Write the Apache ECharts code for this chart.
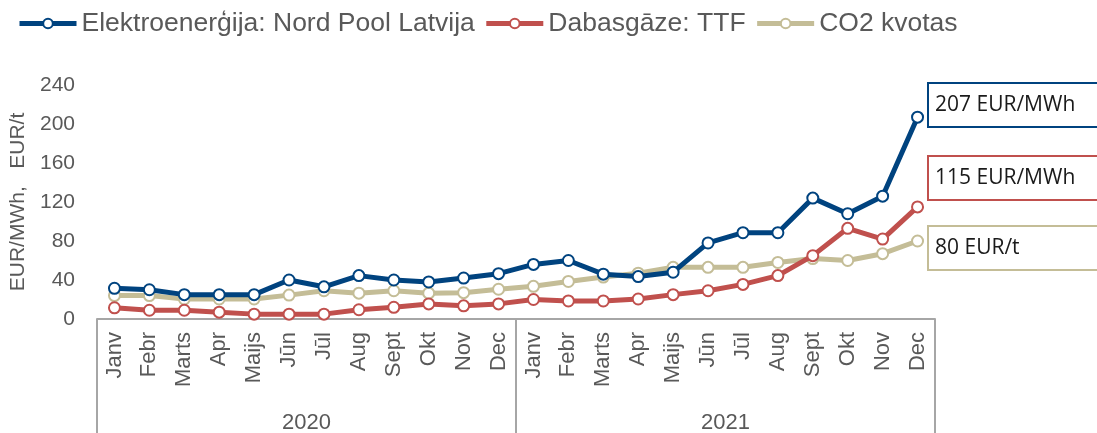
<!DOCTYPE html>
<html>
<head>
<meta charset="utf-8">
<script src="https://cdn.jsdelivr.net/npm/echarts@6/dist/echarts.min.js"></script>
<style>
  html, body { margin: 0; padding: 0; background: #fff; }
  #main { width: 1097px; height: 433px; }
</style>
</head>
<body>
<div id="main"></div>
<script>
// mēneši un gadi
var months = ['Janv', 'Febr', 'Marts', 'Apr', 'Maijs', 'Jūn', 'Jūl', 'Aug', 'Sept', 'Okt', 'Nov', 'Dec',
              'Janv', 'Febr', 'Marts', 'Apr', 'Maijs', 'Jūn', 'Jūl', 'Aug', 'Sept', 'Okt', 'Nov', 'Dec'];
var years = ['2020', '2021'];

var seriesNames = ['Elektroenerģija: Nord Pool Latvija', 'Dabasgāze: TTF', 'CO2 kvotas'];
var colors = ['#00437f', '#c0504d', '#c4bd97'];

var electricity = [31.5, 30, 25, 25, 25, 40, 33, 44.5, 40, 38, 42, 46.5,
                   56, 60, 46, 43.5, 48, 78, 88.5, 88.5, 124, 108, 126, 207];
var gas = [11.5, 9, 9, 7, 5, 5, 5, 9.5, 12, 15.5, 13.5, 15.5,
           20, 18.5, 18.5, 20.5, 25, 29, 35.5, 44.5, 65, 93, 82, 115];
var co2 = [24, 24, 20.5, 20.5, 20.5, 24.5, 29, 26.5, 29, 26.5, 27, 30.5,
           33.5, 38.5, 43, 47, 53, 53, 53, 58, 62, 60, 67, 80];

var endLabels = ['207 EUR/MWh', '115 EUR/MWh', '80 EUR/t'];

var textGray = '#595959';
var axisGray = '#a6a6a6';
var font = 'Liberation Sans';

var myChart = echarts.init(document.getElementById('main'));

function lineSeries(i, data) {
    return {
        name: seriesNames[i],
        type: 'line',
        data: data,
        symbol: 'emptyCircle',
        symbolSize: 11,
        showAllSymbol: true,
        lineStyle: { width: 5, color: colors[i] },
        itemStyle: { color: colors[i], borderColor: colors[i], borderWidth: 2 },
        z: 3 - i
    };
}

// labeļu rāmji labajā pusē
var boxTops = [82, 155, 225];
var boxes = [];
endLabels.forEach(function (txt, i) {
    boxes.push({
        type: 'rect',
        left: 927, top: boxTops[i],
        shape: { width: 200, height: 44 },
        style: { fill: '#fff', stroke: colors[i], lineWidth: 2 }
    });
    boxes.push({
        type: 'text',
        left: 935, top: boxTops[i] + 13,
        style: { text: txt, font: '21px "Open Sans", sans-serif', fill: '#1a1a1a' }
    });
});

var option = {
    backgroundColor: '#fff',
    animation: false,
    color: colors,
    legend: {
        left: 12, top: 5,
        itemWidth: 57, itemHeight: 12, itemGap: 9,
        lineStyle: { width: 5 },
        textStyle: { fontSize: 26.5, color: textGray, fontFamily: font },
        data: seriesNames
    },
    grid: { left: 97, right: 162, top: 85, bottom: 114, outerBoundsMode: 'none' },
    xAxis: [{
        type: 'category',
        data: months,
        boundaryGap: true,
        axisLine: { lineStyle: { color: axisGray, width: 2 } },
        axisTick: { show: false },
        axisLabel: {
            rotate: 90, interval: 0, margin: 13,
            fontSize: 22, color: textGray, fontFamily: font
        }
    }, {
        type: 'category',
        data: years,
        position: 'bottom',
        boundaryGap: true,
        axisLine: { show: false },
        axisTick: { show: true, length: 116, lineStyle: { color: axisGray, width: 2 } },
        axisLabel: { margin: 93, fontSize: 22, color: textGray, fontFamily: font }
    }],
    yAxis: {
        type: 'value',
        min: 0, max: 240, interval: 40,
        name: 'EUR/MWh,   EUR/t',
        nameLocation: 'middle',
        nameGap: 64,
        nameTextStyle: { fontSize: 21, color: textGray, fontFamily: font },
        axisLine: { show: false },
        axisTick: { show: false },
        splitLine: { show: false },
        axisLabel: { fontSize: 21, color: textGray, margin: 22, fontFamily: font }
    },
    graphic: boxes,
    series: [lineSeries(0, electricity), lineSeries(1, gas), lineSeries(2, co2)]
};

myChart.setOption(option);
window.addEventListener('resize', function () {
    myChart.resize();
});
</script>
</body>
</html>
